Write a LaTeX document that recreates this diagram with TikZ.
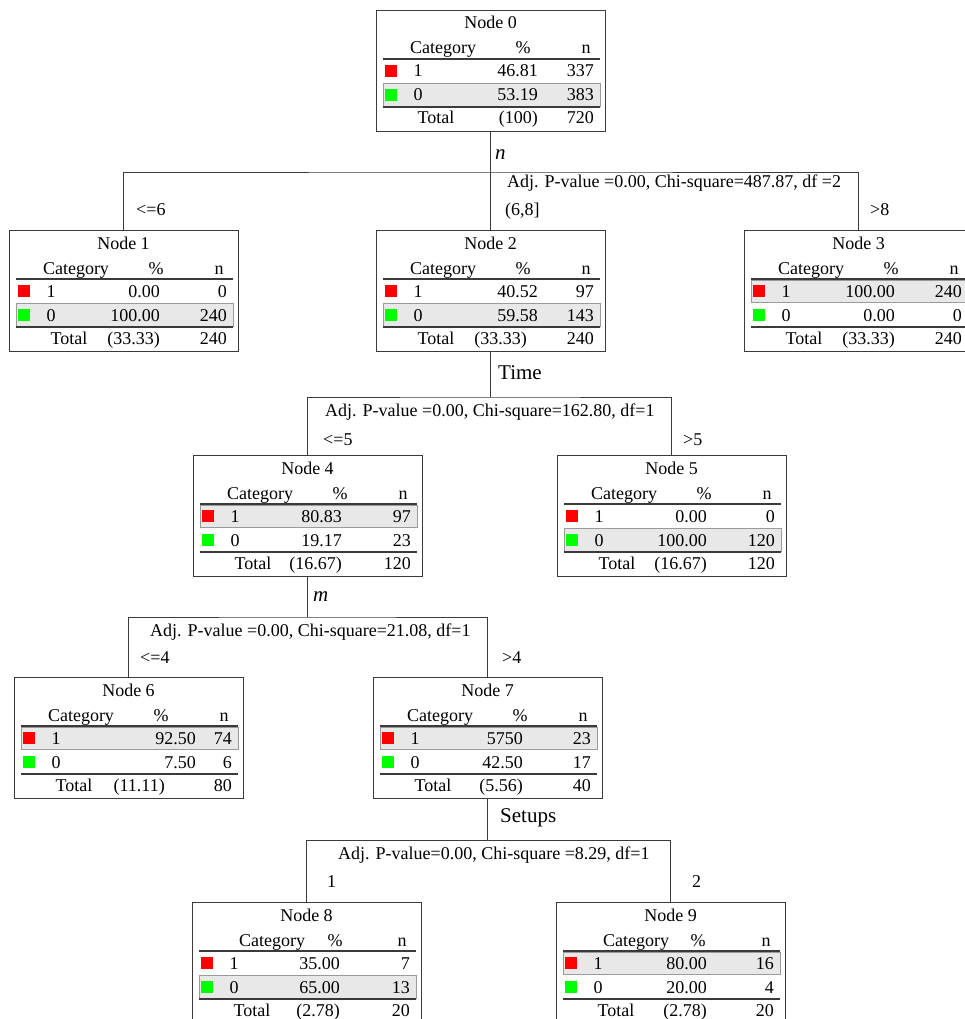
\documentclass[tikz,border=0pt]{standalone}
\usepackage{fontspec}
\setmainfont{Liberation Serif}
\definecolor{rowgray}{HTML}{E8E8E8}
\definecolor{rowedge}{HTML}{9A9A9A}
\definecolor{linegray}{HTML}{3A3A3A}
\definecolor{catred}{HTML}{FF0000}
\definecolor{catgreen}{HTML}{00FF00}
\pgfkeys{/cn/.is family,/cn,
 L/.store in=\cnL, T/.store in=\cnT, id/.store in=\cnid,
 pa/.store in=\cnpa, na/.store in=\cnna, pb/.store in=\cnpb, nb/.store in=\cnnb,
 pt/.store in=\cnpt, nt/.store in=\cnnt, sh/.store in=\cnsh,
 px/.store in=\cnpx, tx/.store in=\cntx, cx/.store in=\cncx, hx/.store in=\cnhx}
\tikzset{
 cbox/.style={draw=linegray, line width=0.9pt, rectangle, minimum width=229pt, minimum height=121pt, inner sep=0pt, outer sep=0pt},
 txt/.style={inner sep=0pt, anchor=base, font=\fontsize{18}{20}\selectfont},
 rtxt/.style={txt, anchor=base east},
 ltxt/.style={txt, anchor=west},
 var/.style={inner sep=0pt, anchor=west, font=\fontsize{21}{24}\selectfont},
 shaderow/.style={fill=rowgray, draw=rowedge, line width=0.5pt},
 rulel/.style={draw=linegray, line width=1.3pt},
 conn/.style={draw=linegray, line width=0.9pt}
}
\newcommand\cnode[2]{%
 \pgfkeys{/cn, px=151, tx=\cnpx, cx=67, hx=147, sh=0, #2}%
 \node[cbox, anchor=north west] (#1) at (\cnL,\cnT) {};
 \begin{scope}[shift={(#1.north west)}]
  \ifnum\cnsh=1
   \draw[shaderow] (7,50) rectangle (224,72);
  \else
   \draw[shaderow] (7,73) rectangle (224,96);
  \fi
  \fill[catred] (9,55) rectangle (21,67);
  \fill[catgreen] (9,79) rectangle (21,91);
  \draw[rulel] (7,49) -- (224,49);
  \draw[rulel] (7,97) -- (224,97);
  \node[txt] (#1-title) at (114.5,19) {Node \cnid};
  \node[txt] (#1-cat) at (\cncx,44) {Category};
  \node[txt] (#1-pct) at (\cnhx,44) {\%};
  \node[txt] (#1-n) at (210,44) {n};
  \node[txt] (#1-ca) at (42,67) {1};
  \node[rtxt] (#1-pa) at (\cnpx,67) {\cnpa};
  \node[rtxt] (#1-na) at (218,67) {\cnna};
  \node[txt] (#1-cb) at (42,91) {0};
  \node[rtxt] (#1-pb) at (\cnpx,91) {\cnpb};
  \node[rtxt] (#1-nb) at (218,91) {\cnnb};
  \node[txt] (#1-tot) at (60,114) {Total};
  \node[rtxt] (#1-pt) at (\cntx,114) {\cnpt};
  \node[rtxt] (#1-nt) at (218,114) {\cnnt};
 \end{scope}
}
\begin{document}
\begin{tikzpicture}[x=1pt,y=-1pt]
\useasboundingbox (0,0) rectangle (964,1019);
% nodes
\cnode{n0}{L=376,T=10,id=0,pa=46.81,na=337,pb=53.19,nb=383,pt=(100),nt=720,sh=0,px=162}
\cnode{n1}{L=9,T=230,id=1,pa=0.00,na=0,pb=100.00,nb=240,pt=(33.33),nt=240,sh=0}
\cnode{n2}{L=376,T=230,id=2,pa=40.52,na=97,pb=59.58,nb=143,pt=(33.33),nt=240,sh=0,px=162,tx=151}
\cnode{n3}{L=744,T=230,id=3,pa=100.00,na=240,pb=0.00,nb=0,pt=(33.33),nt=240,sh=1}
\cnode{n4}{L=193,T=455,id=4,pa=80.83,na=97,pb=19.17,nb=23,pt=(16.67),nt=120,sh=1,px=149}
\cnode{n5}{L=557,T=455,id=5,pa=0.00,na=0,pb=100.00,nb=120,pt=(16.67),nt=120,sh=0,px=150}
\cnode{n6}{L=14,T=677,id=6,pa=92.50,na=74,pb=7.50,nb=6,pt=(11.11),nt=80,sh=1,px=182,tx=151}
\cnode{n7}{L=373,T=677,id=7,pa=5750,na=23,pb=42.50,nb=17,pt=(5.56),nt=40,sh=1,px=150}
\cnode{n8}{L=192,T=902,id=8,pa=35.00,na=7,pb=65.00,nb=13,pt=(2.78),nt=20,sh=0,px=148,cx=80,hx=143}
\cnode{n9}{L=556,T=902,id=9,pa=80.00,na=16,pb=20.00,nb=4,pt=(2.78),nt=20,sh=1,px=151,cx=80,hx=142}
% split 0
\coordinate (j0) at (n0.south |- 0,172);
\draw[conn] (n0.south) -- (j0);
\draw[conn] (n1.north) |- (j0) -| (n3.north);
\draw[conn] (j0) -- (n2.north);
\node[var] (v0) at (495,155) {\itshape n};
\node[ltxt] (a0) at (507,183) {Adj. P-value =0.00, Chi-square=487.87, df =2};
\node[ltxt] (b1) at (136,210) {<=6};
\node[ltxt] (b2) at (505,211) {(6,8]};
\node[ltxt] (b3) at (870,210) {>8};
% split 2
\coordinate (j2) at (n2.south |- 0,397);
\draw[conn] (n2.south) -- (j2);
\draw[conn] (n4.north) |- (j2) -| (n5.north);
\node[var] (v2) at (498,373) {Time};
\node[ltxt] (a2) at (325,412) {Adj. P-value =0.00, Chi-square=162.80, df=1};
\node[ltxt] (b4) at (323,440) {<=5};
\node[ltxt] (b5) at (683,440) {>5};
% split 4
\coordinate (j4) at (n4.south |- 0,617);
\draw[conn] (n4.south) -- (j4);
\draw[conn] (n6.north) |- (j4) -| (n7.north);
\node[var] (v4) at (313,597) {\itshape m};
\node[ltxt] (a4) at (150,632) {Adj. P-value =0.00, Chi-square=21.08, df=1};
\node[ltxt] (b6) at (140,658) {<=4};
\node[ltxt] (b7) at (502,658) {>4};
% split 7
\coordinate (j7) at (n7.south |- 0,840);
\draw[conn] (n7.south) -- (j7);
\draw[conn] (n8.north) |- (j7) -| (n9.north);
\node[var] (v7) at (500,818) {Setups};
\node[ltxt] (a7) at (338,855) {Adj. P-value=0.00, Chi-square =8.29, df=1};
\node[ltxt] (b8) at (327,882) {1};
\node[ltxt] (b9) at (692,882) {2};
\end{tikzpicture}
\end{document}
